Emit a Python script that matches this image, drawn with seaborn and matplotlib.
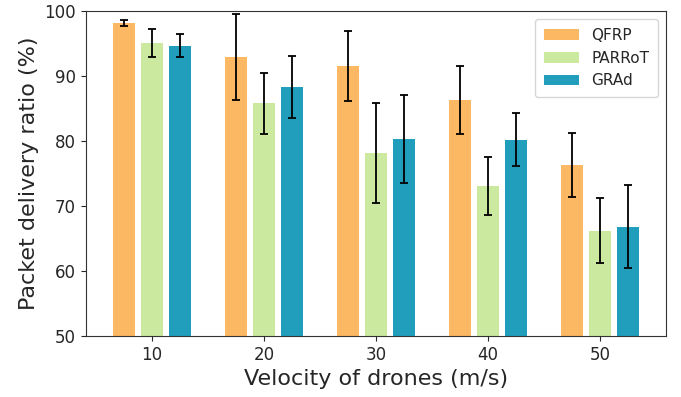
import numpy as np
import pandas as pd
import matplotlib
matplotlib.use("Agg")
import matplotlib.pyplot as plt
import seaborn as sns

velocities = ["10", "20", "30", "40", "50"]
protocols = ["QFRP", "PARRoT", "GRAd"]

qfrp_mean = [98.2, 92.9, 91.6, 86.3, 76.3]
parrot_mean = [95.1, 85.8, 78.2, 73.1, 66.2]
grad_mean = [94.7, 88.3, 80.3, 80.2, 66.8]

qfrp_err = [0.45, 6.6, 5.4, 5.2, 4.9]
parrot_err = [2.1, 4.7, 7.7, 4.5, 5.0]
grad_err = [1.7, 4.75, 6.8, 4.1, 6.4]

colors = ["#fdb863", "#cce9a0", "#219ebc"]

means = [qfrp_mean, parrot_mean, grad_mean]
errs = [qfrp_err, parrot_err, grad_err]

df = pd.DataFrame({
    "velocity": velocities * 3,
    "protocol": [p for p in protocols for _ in velocities],
    "pdr": sum(means, []),
    "err": sum(errs, []),
})

sns.set_style("ticks")
fig, ax = plt.subplots(figsize=(6.81, 3.97), dpi=100)
fig.subplots_adjust(left=0.126, right=0.978, top=0.972, bottom=0.154)

sns.barplot(data=df, x="velocity", y="pdr", hue="protocol", order=velocities,
            hue_order=protocols, palette=colors, saturation=1, width=0.75,
            gap=0.2, errorbar=None, linewidth=0, ax=ax)

# error bars on top of each bar
bar_groups = list(ax.containers)
for i, cont in enumerate(bar_groups):
    xs = [b.get_x() + b.get_width() / 2 for b in cont]
    ax.errorbar(xs, means[i], yerr=errs[i], fmt="none", ecolor="black",
                elinewidth=1.3, capsize=3, capthick=1.3)

ax.set_ylim(50, 100)
ax.set_xlim(-0.59, 4.59)
ax.set_xlabel("Velocity of drones (m/s)", fontsize=16)
ax.set_ylabel("Packet delivery ratio (%)", fontsize=16)
ax.tick_params(labelsize=12)
for s in ax.spines.values():
    s.set_color("#333333")
ax.legend(loc="upper right", fontsize=11, handlelength=2.3, borderpad=0.6,
          labelspacing=0.5)

plt.savefig("out.png", dpi=100)
